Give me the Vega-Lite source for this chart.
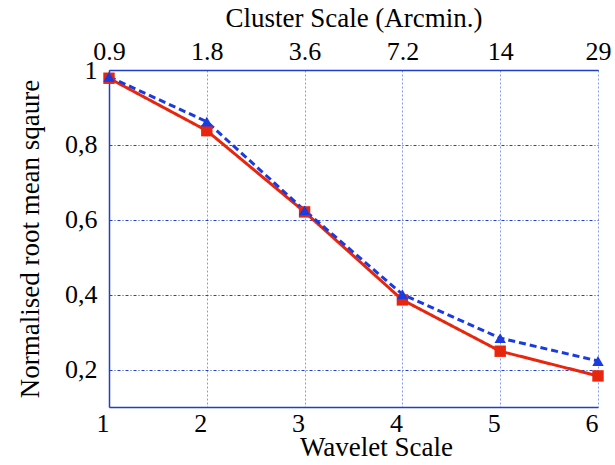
{
  "$schema": "https://vega.github.io/schema/vega-lite/v6.json",
  "autosize": "none",
  "width": 489,
  "height": 337,
  "padding": {"left": 109, "top": 70, "right": 17, "bottom": 58},
  "background": "white",
  "config": {
    "view": {"stroke": null},
    "font": "Liberation Serif",
    "axis": {
      "labelFont": "Liberation Serif",
      "titleFont": "Liberation Serif",
      "labelFontSize": 26,
      "titleFontSize": 27,
      "titleFontWeight": "normal",
      "labelColor": "black",
      "titleColor": "black",
      "domainColor": "#1f3fc8",
      "domainWidth": 1.5,
      "ticks": false
    }
  },
  "data": {
    "values": [
      {"scale": 1, "rms": 0.978, "series": "red"},
      {"scale": 2, "rms": 0.838, "series": "red"},
      {"scale": 3, "rms": 0.621, "series": "red"},
      {"scale": 4, "rms": 0.386, "series": "red"},
      {"scale": 5, "rms": 0.249, "series": "red"},
      {"scale": 6, "rms": 0.183, "series": "red"},
      {"scale": 1, "rms": 0.982, "series": "blue"},
      {"scale": 2, "rms": 0.862, "series": "blue"},
      {"scale": 3, "rms": 0.625, "series": "blue"},
      {"scale": 4, "rms": 0.401, "series": "blue"},
      {"scale": 5, "rms": 0.284, "series": "blue"},
      {"scale": 6, "rms": 0.223, "series": "blue"}
    ]
  },
  "layer": [
    {
      "mark": {"type": "rule", "opacity": 0},
      "encoding": {
        "x": {
          "field": "scale", "type": "quantitative",
          "scale": {"domain": [1, 6], "nice": false, "zero": false},
          "axis": {
            "orient": "top", "title": "Cluster Scale (Arcmin.)",
            "values": [1, 2, 3, 4, 5, 6],
            "labelExpr": "['0.9','1.8','3.6','7.2','14','29'][datum.value - 1]",
            "labelPadding": 6, "titlePadding": 6,
            "grid": false, "labelFlush": false
          }
        }
      }
    },
    {
      "mark": {"type": "line", "strokeWidth": 3},
      "encoding": {
        "x": {
          "field": "scale", "type": "quantitative",
          "scale": {"domain": [1, 6], "nice": false, "zero": false},
          "axis": {
            "orient": "bottom", "title": "Wavelet Scale",
            "values": [1, 2, 3, 4, 5, 6], "format": "d",
            "labelAlign": "right", "labelDx": -1, "labelPadding": 3,
            "titleX": 267, "titleY": 48, "titleBaseline": "alphabetic",
            "labelFlush": false,
            "grid": true, "gridColor": "#8a9ae8", "gridDash": [2, 2], "gridWidth": 1
          }
        },
        "y": {
          "field": "rms", "type": "quantitative",
          "scale": {"domain": [0.1, 1], "nice": false, "zero": false},
          "axis": {
            "title": "Normalised root mean sqaure",
            "values": [0.2, 0.4, 0.6, 0.8, 1],
            "labelExpr": "datum.value == 1 ? '1' : replace(format(datum.value, '.1f'), '.', ',')",
            "labelPadding": 12, "titlePadding": 20, "labelFlush": false,
            "grid": true, "gridColor": "#2040d0", "gridDash": [3, 2, 1, 2], "gridWidth": 1
          }
        },
        "color": {
          "field": "series", "type": "nominal",
          "scale": {"domain": ["red", "blue"], "range": ["#e8260e", "#1a3be0"]},
          "legend": null
        },
        "strokeDash": {
          "field": "series", "type": "nominal",
          "scale": {"domain": ["red", "blue"], "range": [[1, 0], [7, 4]]},
          "legend": null
        }
      }
    },
    {
      "mark": {"type": "point", "filled": true, "opacity": 1},
      "encoding": {
        "x": {"field": "scale", "type": "quantitative", "axis": null},
        "y": {"field": "rms", "type": "quantitative"},
        "color": {
          "field": "series", "type": "nominal",
          "scale": {"domain": ["red", "blue"], "range": ["#e8260e", "#1a3be0"]},
          "legend": null
        },
        "shape": {
          "field": "series", "type": "nominal",
          "scale": {"domain": ["red", "blue"], "range": ["square", "triangle-up"]},
          "legend": null
        },
        "size": {"value": 130}
      }
    }
  ],
  "resolve": {"axis": {"x": "independent"}}
}
